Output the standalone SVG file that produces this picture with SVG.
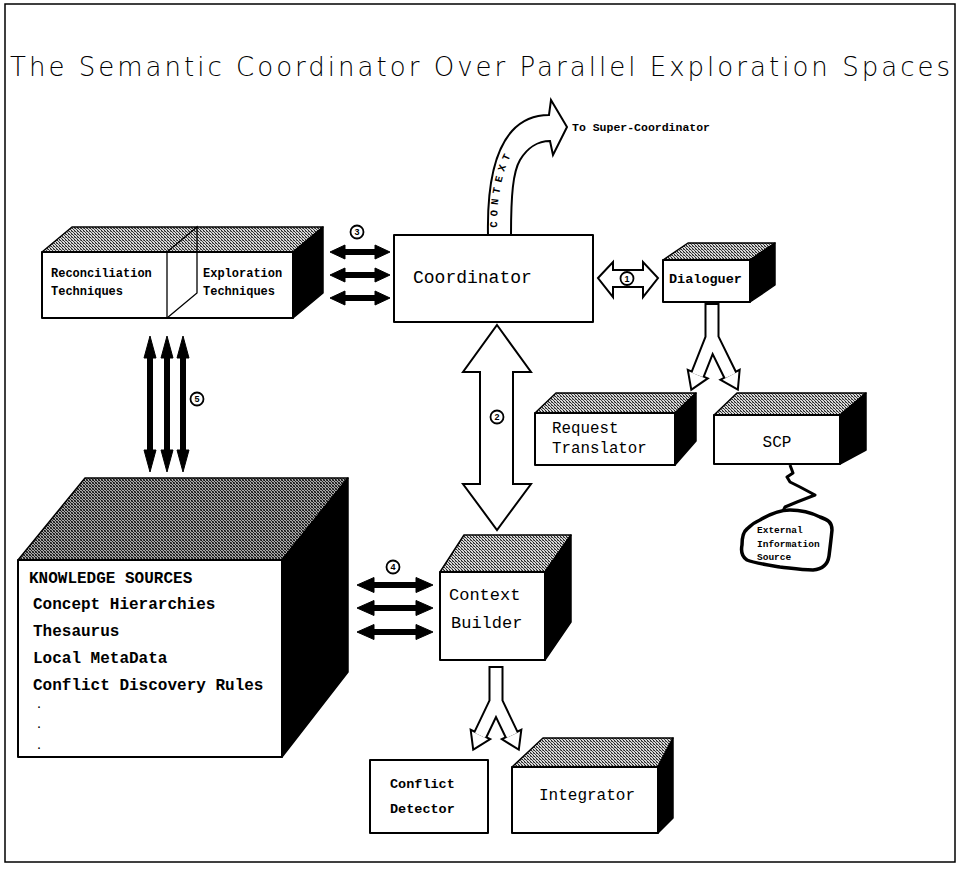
<svg xmlns="http://www.w3.org/2000/svg" width="960" height="875" viewBox="0 0 960 875">
<defs>
<pattern id="hatch" width="3" height="3" patternUnits="userSpaceOnUse">
<rect width="3" height="3" fill="#d8d8d8"/>
<rect x="0" y="0" width="1" height="1" fill="#222"/>
<rect x="1" y="1" width="1" height="1" fill="#444"/>
<rect x="2" y="2" width="1" height="1" fill="#222"/>
<rect x="2" y="0" width="1" height="1" fill="#777"/>
</pattern>
<pattern id="hatchDark" width="3" height="3" patternUnits="userSpaceOnUse">
<rect width="3" height="3" fill="#aaa"/>
<rect x="0" y="0" width="1" height="1" fill="#111"/>
<rect x="1" y="1" width="1" height="1" fill="#222"/>
<rect x="2" y="2" width="1" height="1" fill="#111"/>
<rect x="2" y="0" width="1" height="1" fill="#444"/>
<rect x="0" y="2" width="1" height="1" fill="#555"/>
</pattern>
<path id="ctxPath" d="M497,231 C497,195 501,168 521,137"/>
</defs>
<style>
.frame{fill:none;stroke:#000;stroke-width:1.5}
.face{fill:#fff;stroke:#000;stroke-width:2;stroke-linejoin:round}
.top{fill:url(#hatch);stroke:#000;stroke-width:1.5;stroke-linejoin:round}
.topd{fill:url(#hatchDark);stroke:#000;stroke-width:1.5;stroke-linejoin:round}
.side{fill:#000;stroke:#000;stroke-width:1.5;stroke-linejoin:round}
.thin{fill:none;stroke:#000;stroke-width:1.3}
.solid{fill:#000;stroke:#000;stroke-width:1}
.hollow{fill:#fff;stroke:#000;stroke-width:2;stroke-linejoin:miter}
.shaftB{fill:none;stroke:#000;stroke-width:15;stroke-linecap:butt;stroke-linejoin:miter}
.shaftW{fill:none;stroke:#fff;stroke-width:11;stroke-linecap:butt;stroke-linejoin:miter}
.headB{fill:#000;stroke:#000;stroke-width:4;stroke-linejoin:miter}
.headW{fill:#fff;stroke:none}
.num{fill:#fff;stroke:#000;stroke-width:1.8}
.numt{font-family:"Liberation Sans",Arial,sans-serif;font-size:9px;font-weight:bold;text-anchor:middle}
.title{font-family:"DejaVu Sans","Liberation Sans",Arial,sans-serif;font-weight:200;font-size:26px;fill:#000}
.tb{font-family:"Liberation Mono","Courier New",monospace;font-weight:bold;fill:#000}
.tr{font-family:"Liberation Mono","Courier New",monospace;fill:#000}
.squig{fill:none;stroke:#000;stroke-width:3;stroke-linejoin:round}
.blob{fill:#fff;stroke:#000;stroke-width:3.5;stroke-linejoin:round}
</style>
<rect x="0" y="0" width="960" height="875" fill="#fff"/>
<rect class="frame" x="5" y="4" width="950" height="858"/>
<text class="title" x="10" y="76" textLength="940" lengthAdjust="spacing">The Semantic Coordinator Over Parallel Exploration Spaces</text>

<g id="techniques">
<polygon class="top" points="42,252 72,227 323,227 293,252"/>
<polygon class="side" points="293,252 323,227 323,293 293,318"/>
<rect class="face" x="42" y="252" width="251" height="66"/>
<polyline class="thin" points="167,252 167,318"/>
<polyline class="thin" points="167,252 197,227 197,293 167,318"/>
<text class="tb" font-size="12" x="51" y="277">Reconciliation</text>
<text class="tb" font-size="12" x="51" y="295">Techniques</text>
<text class="tb" font-size="12" x="203" y="277">Exploration</text>
<text class="tb" font-size="12" x="203" y="295">Techniques</text>
</g>

<g id="coordinator">
<rect class="face" x="394" y="235" width="199" height="87"/>
<text class="tr" font-size="18" x="413" y="283">Coordinator</text>
</g>

<g id="dialoguer">
<polygon class="top" points="663,260 688,243 775,243 750,260"/>
<polygon class="side" points="750,260 775,243 775,285 750,302"/>
<rect class="face" x="663" y="260" width="87" height="42"/>
<text class="tb" font-size="13.5" x="669" y="283">Dialoguer</text>
</g>

<g id="request-translator">
<polygon class="top" points="535,413 556,393 696,393 675,413"/>
<polygon class="side" points="675,413 696,393 696,441 675,465"/>
<rect class="face" x="535" y="413" width="140" height="52"/>
<text class="tr" font-size="15.8" x="552" y="433">Request</text>
<text class="tr" font-size="15.8" x="552" y="453">Translator</text>
</g>

<g id="scp">
<polygon class="top" points="714,415 737,393 866,393 840,415"/>
<polygon class="side" points="840,415 866,393 866,450 840,464"/>
<rect class="face" x="714" y="415" width="126" height="49"/>
<text class="tr" font-size="16" x="777" y="447" text-anchor="middle">SCP</text>
</g>

<g id="external-source">
<path class="blob" d="M760,520 C770,514 780,510 790,510 C802,510 812,513 820,517 C828,520 832,522 832,530 C831,540 830,548 829,556 C828,563 824,569 813,570 C800,570 790,568 780,567 C768,565 754,563 747,560 C741,556 741,550 742,545 C742,538 743,532 747,529 C751,525 755,522 760,520 Z"/>
<text class="tb" font-size="9.5" x="757" y="533">External</text>
<text class="tb" font-size="9.5" x="757" y="547">Information</text>
<text class="tb" font-size="9.5" x="757" y="560">Source</text>
</g>

<g id="knowledge-sources">
<polygon class="topd" points="18,560 85,478 348,478 282,560"/>
<polygon class="side" points="282,560 348,478 348,672 282,757"/>
<rect class="face" x="18" y="560" width="264" height="197"/>
<text class="tb" font-size="16" x="29" y="583">KNOWLEDGE SOURCES</text>
<text class="tb" font-size="16" x="33" y="609">Concept Hierarchies</text>
<text class="tb" font-size="16" x="33" y="636">Thesaurus</text>
<text class="tb" font-size="16" x="33" y="663">Local MetaData</text>
<text class="tb" font-size="16" x="33" y="690">Conflict Discovery Rules</text>
<text class="tb" font-size="10" x="36" y="708">.</text>
<text class="tb" font-size="10" x="36" y="728">.</text>
<text class="tb" font-size="10" x="36" y="749">.</text>
</g>

<g id="context-builder">
<polygon class="top" points="440,572 464,535 571,535 545,572"/>
<polygon class="side" points="545,572 571,535 571,622 545,660"/>
<rect class="face" x="440" y="572" width="105" height="88"/>
<text class="tr" font-size="17" x="449" y="600">Context</text>
<text class="tr" font-size="17" x="451" y="628">Builder</text>
</g>

<g id="conflict-detector">
<rect class="face" x="370" y="760" width="118" height="73"/>
<text class="tb" font-size="13.5" x="390" y="788">Conflict</text>
<text class="tb" font-size="13.5" x="390" y="813">Detector</text>
</g>

<g id="integrator">
<polygon class="top" points="512,767 543,738 673,738 658,767"/>
<polygon class="side" points="658,767 673,738 673,818 658,833"/>
<rect class="face" x="512" y="767" width="146" height="66"/>
<text class="tr" font-size="16" x="539" y="800">Integrator</text>
</g>

<g id="connectors">
<path class="hollow" d="M488,235 C487,185 495,150 512,131 C522,120 535,115 549,115 L551,100 L567,127 L553,155 L550,141 C538,141 527,148 520,160 C513,172 511,195 511,235 Z"/>
<text class="tb" font-size="10.5" letter-spacing="5"><textPath href="#ctxPath" startOffset="3">CONTEXT</textPath></text>
<text class="tb" font-size="10" x="572" y="131" textLength="138" lengthAdjust="spacingAndGlyphs">To Super-Coordinator</text>

<polygon class="solid" points="330,252 345,245 345,249.5 375,249.5 375,245 390,252 375,259 375,254.5 345,254.5 345,259"/>
<polygon class="solid" points="330,275 345,268 345,272.5 375,272.5 375,268 390,275 375,282 375,277.5 345,277.5 345,282"/>
<polygon class="solid" points="330,298 345,291 345,295.5 375,295.5 375,291 390,298 375,305 375,300.5 345,300.5 345,305"/>
<circle class="num" cx="357" cy="232" r="6.5"/><text class="numt" x="357" y="235.2">3</text>

<polygon class="hollow" points="598,278 613,262 613,270 643,270 643,262 658,278 643,297 643,287 613,287 613,297"/>
<circle class="num" cx="627" cy="278.5" r="6.5"/><text class="numt" x="627" y="281.7">1</text>

<polygon class="hollow" points="497,325 531,372 513,372 513,484 531,484 497,530 463,484 480,484 480,372 463,372"/>
<circle class="num" cx="497" cy="417" r="6.5"/><text class="numt" x="497" y="420.2">2</text>

<polygon class="solid" points="150,336 156,358 152.5,358 152.5,450 156,450 150,472 144,450 147.5,450 147.5,358 144,358"/>
<polygon class="solid" points="167,336 173,358 169.5,358 169.5,450 173,450 167,472 161,450 164.5,450 164.5,358 161,358"/>
<polygon class="solid" points="183,336 189,358 185.5,358 185.5,450 189,450 183,472 177,450 180.5,450 180.5,358 177,358"/>
<circle class="num" cx="197" cy="399" r="6.5"/><text class="numt" x="197" y="402.2">5</text>

<polygon class="solid" points="357,585 374,577.5 374,582.5 416,582.5 416,577.5 433,585 416,592.5 416,587.5 374,587.5 374,592.5"/>
<polygon class="solid" points="357,608 374,600.5 374,605.5 416,605.5 416,600.5 433,608 416,615.5 416,610.5 374,610.5 374,615.5"/>
<polygon class="solid" points="357,632 374,624.5 374,629.5 416,629.5 416,624.5 433,632 416,639.5 416,634.5 374,634.5 374,639.5"/>
<circle class="num" cx="393" cy="567" r="6.5"/><text class="numt" x="393" y="570.2">4</text>

<path class="shaftB" d="M712,303 L712,338 L697.4,375.1 M712,338 L730.5,375.6"/>
<polygon class="headB" points="692,388 705.7,378.6 689.1,371.6"/>
<polygon class="headB" points="737,388 738.5,371.4 722.5,379.8"/>
<path class="shaftW" d="M712,305 L712,338 L697.4,375.1 M712,338 L730.5,375.6"/>
<polygon class="headW" points="692,388 705.7,378.6 689.1,371.6"/>
<polygon class="headW" points="737,388 738.5,371.4 722.5,379.8"/>

<path class="shaftB" d="M496,666 L496,702 L480,735.4 M496,702 L512,735.4"/>
<polygon class="headB" points="474,748 488.1,739.3 471.9,731.5"/>
<polygon class="headB" points="518,748 520.1,731.5 503.9,739.3"/>
<path class="shaftW" d="M496,668 L496,702 L480,735.4 M496,702 L512,735.4"/>
<polygon class="headW" points="474,748 488.1,739.3 471.9,731.5"/>
<polygon class="headW" points="518,748 520.1,731.5 503.9,739.3"/>

<polyline class="squig" points="790,465 793,473 787,477 790,482 800,487 815,495 797,502 785,507 783,511"/>
</g>
</svg>
